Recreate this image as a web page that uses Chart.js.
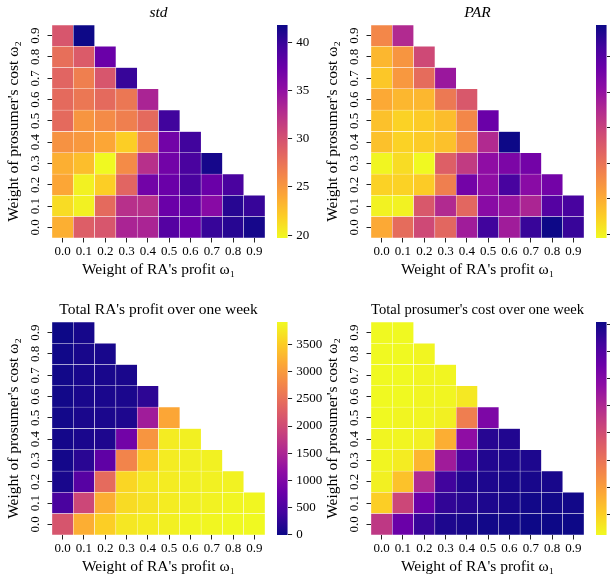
<!DOCTYPE html>
<html>
<head>
<meta charset="utf-8">
<script src="https://cdn.jsdelivr.net/npm/chart.js@4.4.0/dist/chart.umd.min.js"></script>
<style>
  html, body { margin: 0; padding: 0; background: #fff; overflow: hidden; }
  body { width: 610px; height: 578px; position: relative; }
  canvas { position: absolute; }
</style>
</head>
<body>
<canvas id="stdHeat" width="275" height="290" style="left:0;top:0"></canvas>
<canvas id="stdBar" width="60" height="290" style="left:277px;top:0"></canvas>
<canvas id="parHeat" width="275" height="290" style="left:319px;top:0"></canvas>
<canvas id="parBar" width="60" height="290" style="left:596px;top:0"></canvas>
<canvas id="profitHeat" width="275" height="290" style="left:0;top:297px"></canvas>
<canvas id="profitBar" width="60" height="290" style="left:277px;top:297px"></canvas>
<canvas id="costHeat" width="275" height="290" style="left:319px;top:297px"></canvas>
<canvas id="costBar" width="60" height="290" style="left:596px;top:297px"></canvas>
<script>
// weights, rows are omega2 = 0.0 .. 0.9, columns omega1 = 0.0 .. 0.9
const w1Labels = ['0.0', '0.1', '0.2', '0.3', '0.4', '0.5', '0.6', '0.7', '0.8', '0.9'];
const w2Labels = ['0.0', '0.1', '0.2', '0.3', '0.4', '0.5', '0.6', '0.7', '0.8', '0.9'];

const stdRows = [
  [23.6, 29.0, 29.6, 33.4, 33.4, 38.5, 37.4, 40.0, 40.7, 41.4],
  [21.2, 20.1, 28.1, 32.5, 32.5, 37.4, 37.8, 35.6, 40.7, 40.0],
  [24.1, 20.1, 21.9, 28.5, 36.9, 37.4, 39.1, 37.4, 39.1],
  [23.6, 22.8, 19.7, 25.9, 32.5, 36.9, 39.1, 41.4],
  [25.4, 25.0, 24.1, 21.9, 26.3, 36.9, 39.6],
  [28.1, 25.2, 25.9, 26.7, 28.1, 39.6],
  [28.1, 27.2, 28.1, 27.2, 33.4],
  [28.5, 26.7, 29.6, 40.0],
  [27.8, 29.2, 37.4],
  [29.6, 41.8]
];

const parRows = [
  [1.81, 2.03, 2.17, 2.05, 2.36, 2.66, 2.36, 2.68, 2.78, 2.68],
  [1.60, 1.60, 2.11, 2.30, 2.05, 2.44, 2.39, 2.32, 2.60, 2.64],
  [1.69, 1.69, 1.71, 1.96, 2.51, 2.42, 2.64, 2.44, 2.51],
  [1.59, 1.66, 1.58, 2.08, 2.23, 2.42, 2.48, 2.51],
  [1.74, 1.69, 1.71, 1.74, 1.91, 2.30, 2.78],
  [1.74, 1.69, 1.71, 1.75, 1.93, 2.54],
  [1.81, 1.77, 1.77, 1.98, 2.11],
  [1.72, 1.87, 2.03, 2.38],
  [1.77, 1.88, 2.17],
  [1.93, 2.30]
];

const profitRows = [
  [2150, 3210, 3530, 3760, 3800, 3840, 3880, 3890, 3910, 3920],
  [470, 1960, 3210, 3650, 3720, 3800, 3840, 3860, 3880, 3890],
  [80, 590, 2430, 3600, 3760, 3800, 3840, 3850, 3860],
  [45, 200, 670, 2740, 3450, 3800, 3840, 3850],
  [40, 90, 120, 860, 2940, 3800, 3840],
  [35, 85, 95, 120, 1370, 3130],
  [30, 80, 90, 95, 230],
  [25, 75, 80, 85],
  [20, 70, 75],
  [-10, 60]
];

const costRows = [
  [4560, 6530, 7470, 7860, 7940, 8020, 8020, 8100, 8100, 8100],
  [1020, 4170, 6530, 7550, 7710, 7860, 7940, 8020, 8020, 8020],
  [390, 1250, 4950, 7310, 7790, 7860, 7940, 7940, 7940],
  [310, 470, 1490, 5350, 7160, 7790, 7860, 7860],
  [310, 310, 390, 1650, 5740, 7710, 7790],
  [230, 310, 310, 390, 2750, 6130],
  [230, 230, 310, 310, 550],
  [230, 230, 310, 310],
  [230, 230, 310],
  [230, 230]
];

// colorbar ticks
const stdTicks = [20, 25, 30, 35, 40];
const parTicks = [1.6, 1.8, 2.0, 2.2, 2.4, 2.6];
const profitTicks = [0, 500, 1000, 1500, 2000, 2500, 3000, 3500];
const costTicks = [1000, 2000, 3000, 4000, 5000, 6000, 7000, 8000];

Chart.defaults.font.family = "'Liberation Serif', 'DejaVu Serif', serif";
Chart.defaults.color = '#000';

const plasmaStops = [
  [13, 8, 135], [65, 4, 157], [106, 0, 168], [143, 13, 164], [177, 42, 144],
  [204, 71, 120], [225, 100, 98], [242, 132, 75], [252, 166, 54], [252, 206, 37], [240, 249, 33]
];

function plasma(t) {
  t = Math.max(0, Math.min(1, t)) * 10;
  const i = Math.min(9, Math.floor(t));
  const f = t - i;
  const a = plasmaStops[i], b = plasmaStops[i + 1];
  const c = a.map((v, k) => Math.round(v + (b[k] - v) * f));
  return `rgb(${c[0]},${c[1]},${c[2]})`;
}

function range(rows) {
  const flat = rows.flat();
  return [Math.min(...flat), Math.max(...flat)];
}

const tickGrid = { drawOnChartArea: false, drawTicks: true, tickLength: 4.5, tickColor: '#222', tickWidth: 1 };

function heatmap(id, title, italic, rows, reverse) {
  const [vmin, vmax] = range(rows);
  const color = v => {
    const t = (v - vmin) / (vmax - vmin);
    return plasma(reverse ? 1 - t : t);
  };
  const datasets = rows.map((row, k) => ({
    data: w1Labels.map((_, i) => i < row.length ? [k - 0.5, k + 0.5] : null),
    backgroundColor: w1Labels.map((_, i) => i < row.length ? color(row[i]) : 'rgba(0,0,0,0)'),
    borderColor: '#fff',
    borderWidth: 0.5,
    borderSkipped: false,
    grouped: false,
    barPercentage: 1,
    categoryPercentage: 1
  }));

  new Chart(document.getElementById(id), {
    type: 'bar',
    data: { labels: w1Labels, datasets },
    options: {
      responsive: false,
      animation: false,
      layout: { padding: { right: 10 } },
      plugins: {
        legend: { display: false },
        tooltip: { enabled: false },
        title: {
          display: true,
          fullSize: false,
          text: title,
          color: '#000',
          font: { size: 15.5, weight: 'normal', style: italic ? 'italic' : 'normal' },
          padding: { top: 3.2, bottom: 3.2 }
        }
      },
      scales: {
        x: {
          grid: Object.assign({ offset: false }, tickGrid),
          border: { display: false },
          ticks: { maxRotation: 0, minRotation: 0, autoSkip: false, padding: 1.5, font: { size: 13 } },
          title: { display: true, text: "Weight of RA's profit ω₁", font: { size: 15.5 }, padding: { top: 0, bottom: 11 } },
          afterFit: s => { s.height = 52; }
        },
        y: {
          min: -0.5,
          max: 9.5,
          grid: tickGrid,
          border: { display: false },
          afterBuildTicks: s => { s.ticks = w2Labels.map((_, i) => ({ value: i })); },
          ticks: {
            minRotation: 90,
            maxRotation: 90,
            crossAlign: 'center',
            padding: 3.4,
            font: { size: 13 },
            callback: v => w2Labels[v]
          },
          title: { display: true, text: "Weight of prosumer's cost ω₂", font: { size: 15.5 }, padding: { top: 5 } },
          afterFit: s => { s.width = 52; }
        }
      }
    }
  });
}

function colorbar(id, rows, reverse, ticks) {
  const [vmin, vmax] = range(rows);
  new Chart(document.getElementById(id), {
    type: 'bar',
    data: {
      labels: [''],
      datasets: [{
        data: [[vmin, vmax]],
        barPercentage: 1,
        categoryPercentage: 1,
        borderWidth: 0,
        backgroundColor: ctx => {
          const area = ctx.chart.chartArea;
          if (!area) return null;
          const g = ctx.chart.ctx.createLinearGradient(0, area.bottom, 0, area.top);
          for (let i = 0; i <= 20; i++) {
            const t = i / 20;
            g.addColorStop(t, plasma(reverse ? 1 - t : t));
          }
          return g;
        }
      }]
    },
    options: {
      responsive: false,
      animation: false,
      layout: { padding: { top: 25, bottom: 52 } },
      plugins: { legend: { display: false }, tooltip: { enabled: false } },
      scales: {
        x: { display: false },
        y: {
          position: 'right',
          min: vmin,
          max: vmax,
          grid: tickGrid,
          border: { display: false },
          afterBuildTicks: s => { s.ticks = ticks.map(v => ({ value: v })); },
          ticks: { padding: 4.2, font: { size: 13 }, callback: v => String(v) },
          afterFit: s => { s.width = 49.4; }
        }
      }
    }
  });
}

heatmap('stdHeat', 'std', true, stdRows, true);
colorbar('stdBar', stdRows, true, stdTicks);
heatmap('parHeat', 'PAR', true, parRows, true);
colorbar('parBar', parRows, true, parTicks);
heatmap('profitHeat', "Total RA's profit over one week", false, profitRows, false);
colorbar('profitBar', profitRows, false, profitTicks);
heatmap('costHeat', "Total prosumer's cost over one week", false, costRows, true);
colorbar('costBar', costRows, true, costTicks);
</script>
</body>
</html>
